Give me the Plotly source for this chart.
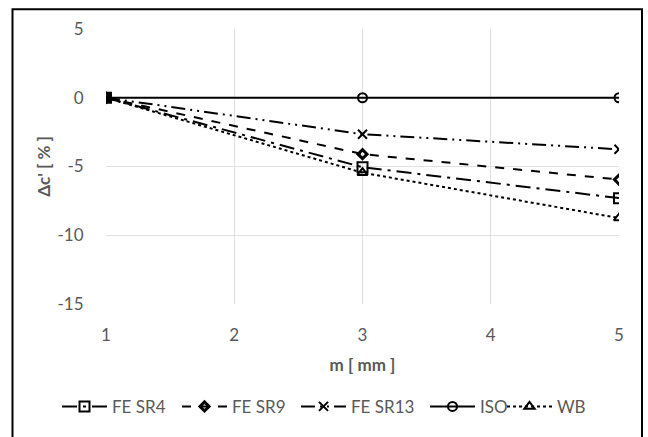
import plotly.graph_objects as go

m_values = [1, 3, 5]
series_names = ["FE SR4", "FE SR9", "FE SR13", "ISO", "WB"]
fe_sr4 = [0, -5.05, -7.3]
fe_sr9 = [0, -4.1, -5.95]
fe_sr13 = [0, -2.65, -3.75]
iso = [0, 0, 0]
wb = [0, -5.45, -8.75]
x_ticks = [1, 2, 3, 4, 5]
y_ticks = [-15, -10, -5, 0, 5]
y_tick_labels = ["-15", "-10", "-5", "0", "5"]

series_values = [fe_sr4, fe_sr9, fe_sr13, iso, wb]
dashes = ["longdashdot", "dash", "14px,5px,2px,5px,2px,5px", "solid", "dot"]
symbols = ["square-open", "diamond-open", "x-thin-open", "circle-open", "triangle-up-open"]
sizes = [10, 7, 9, 9, 9]
mwidths = [2, 3, 2, 2, 2]
legend_left_px = [62, 182, 301, 430, 507]

font_family = "Lato, 'Open Sans', sans-serif"
gray = "#595959"
L, W = 106, 513

fig = go.Figure()
legend_ids = ["legend", "legend2", "legend3", "legend4", "legend5"]
for name, vals, dash, sym, sz, mw, lid in zip(series_names, series_values, dashes, symbols, sizes, mwidths, legend_ids):
    fig.add_trace(go.Scatter(
        x=m_values, y=vals, name=name, mode="lines+markers", legend=lid,
        line=dict(color="black", width=2, dash=dash),
        marker=dict(symbol=sym, size=sz, color="black", line=dict(color="black", width=mw)),
    ))

legend_layout = {}
for lid, px in zip(legend_ids, legend_left_px):
    legend_layout[lid] = dict(orientation="h", x=(px - 5 - L) / W, xanchor="left",
                              y=-0.374, yanchor="middle", bgcolor="rgba(0,0,0,0)",
                              font=dict(size=17, color=gray), itemwidth=45)

fig.update_layout(
    width=648, height=437,
    margin=dict(l=L, r=29, t=29, b=130),
    paper_bgcolor="white", plot_bgcolor="white",
    font=dict(family=font_family, color=gray, size=17),
    showlegend=True,
    xaxis=dict(range=[1, 5], tickvals=x_ticks, showgrid=True, gridcolor="#e0e0e0",
               gridwidth=1, zeroline=False, showline=False,
               ticks="outside", ticklen=16, tickcolor="rgba(0,0,0,0)",
               tickfont=dict(size=17, color=gray),
               title=dict(text="<b>m [ mm ]</b>", font=dict(size=17, color=gray), standoff=14)),
    yaxis=dict(range=[-15, 5], tickvals=y_ticks, ticktext=y_tick_labels, showgrid=True,
               gridcolor="#e0e0e0", gridwidth=1, zeroline=False, showline=False,
               ticks="outside", ticklen=18, tickcolor="rgba(0,0,0,0)",
               tickfont=dict(size=17, color=gray),
               title=dict(text="<b>Δc' [ % ]</b>", font=dict(size=17, color=gray), standoff=2)),
    shapes=[dict(type="rect", xref="paper", yref="paper",
                 x0=(12.5 - L) / W, x1=(642 - L) / W,
                 y0=(307 - 445) / 278, y1=1 + 20 / 278,
                 line=dict(color="black", width=2), layer="below")],
    **legend_layout,
)

fig.write_html("out.html")
